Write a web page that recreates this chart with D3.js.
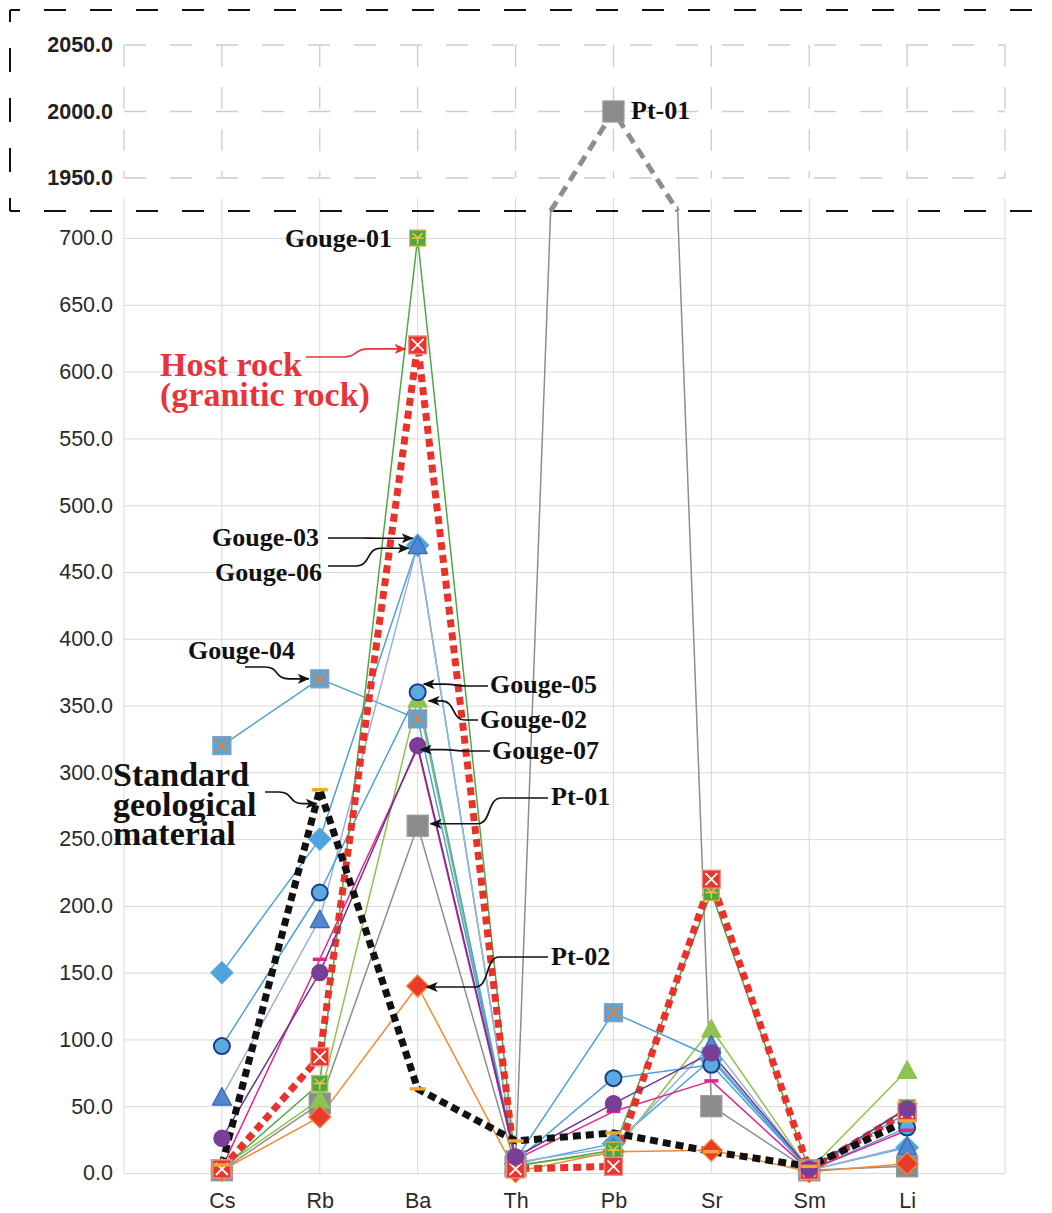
<!DOCTYPE html>
<html>
<head>
<meta charset="utf-8">
<script src="https://cdn.jsdelivr.net/npm/d3@7"></script>
<style>
  body { margin: 0; background: #fff; }
  svg { display: block; }
</style>
</head>
<body>
<svg id="chart" width="1052" height="1213"></svg>
<script>
// ---- data -------------------------------------------------------------
const elements = ["Cs", "Rb", "Ba", "Th", "Pb", "Sr", "Sm", "Li"];
const lowerTicks = [0, 50, 100, 150, 200, 250, 300, 350, 400, 450, 500, 550, 600, 650, 700];
const upperTicks = [1950, 2000, 2050];

const pt01     = [2, 52, 260, 5, 2000, 50, 2, 5];
const gouge02  = [4, 55, 355, 6, 15, 108, 2, 77];
const gouge04  = [320, 370, 340, 10, 120, 87, 2, 45];
const gouge06  = [150, 250, 470, 7, 22, 85, 2, 19];
const gouge03  = [57, 190, 470, 8, 19, 96, 2, 20];
const gouge05  = [95, 210, 360, 9, 71, 81, 2, 34];
const magentaSample = [4, 160, 318, 10, 46, 69, 2, 32];
const pt02     = [2, 42, 140, 1, 16, 17, 1, 7];
const gouge01  = [3, 67, 700, 5, 17, 210, 2, 49];
const hostRock = [3, 87, 620, 3, 5, 220, 2, 46];
const gouge07  = [26, 150, 320, 12, 52, 90, 3, 48];
const standard = [6, 287, 63, 24, 30, 16, 5, 39];

// ---- styles per series (drawing order) --------------------------------
const series = [
  { name: "Pt-01",    values: pt01,    line: { color: "#8e8e8e", width: 1.5 },
    marker: { shape: "square", size: 21, fill: "#8c8c8c", stroke: "#999999" } },
  { name: "Gouge-02", values: gouge02, line: { color: "#8cc44f", width: 1.5 },
    marker: { shape: "triangle", size: 19, fill: "#8dc451", stroke: "#8dc451" } },
  { name: "Gouge-04", values: gouge04, line: { color: "#4ea1d6", width: 1.5 },
    marker: { shape: "squareX", size: 18, fill: "#56a5db", stroke: "#8aa0b8", glyph: "#e5813a" } },
  { name: "Gouge-06", values: gouge06, line: { color: "#4ea1d6", width: 1.5 },
    marker: { shape: "diamond", size: 22, fill: "#4fa3dc", stroke: "#5aa8da" } },
  { name: "Gouge-03", values: gouge03, line: { color: "#9ab3d8", width: 1.5 },
    marker: { shape: "triangle", size: 19, fill: "#4f88d0", stroke: "#3d69b5" } },
  { name: "Gouge-05", values: gouge05, line: { color: "#4ea1d6", width: 1.5 },
    marker: { shape: "circle", size: 16, fill: "#5aace0", stroke: "#1e3a8a", strokeWidth: 2 } },
  { name: "magenta",  values: magentaSample, line: { color: "#e2248c", width: 1.5 },
    marker: { shape: "dash", size: 14, fill: "#e3238d" } },
  { name: "Pt-02",    values: pt02,    line: { color: "#f08a32", width: 1.5 },
    marker: { shape: "diamond", size: 22, fill: "#ea3a2a", stroke: "#f08a3a" } },
  { name: "Gouge-01", values: gouge01, line: { color: "#4fa847", width: 1.5 },
    marker: { shape: "squareStar", size: 16, fill: "#4da74a", stroke: "#d9b13a", glyph: "#f5c533" } },
  { name: "Host rock", values: hostRock, line: { color: "#e8332b", width: 7, dash: "8,5" },
    marker: { shape: "squareX", size: 18, fill: "#e8352e", stroke: "#f09088", glyph: "#ffffff" } },
  { name: "Gouge-07", values: gouge07, line: { color: "#6e3594", width: 1.5 },
    marker: { shape: "circle", size: 16, fill: "#7a3e99", stroke: "#7a3e99" } },
  { name: "Standard geological material", values: standard, line: { color: "#111111", width: 7, dash: "8,5" },
    marker: { shape: "dash", size: 16, fill: "#f0a630" } }
];

// ---- layout -----------------------------------------------------------
const svg = d3.select("#chart");
const left = 124, right = 1005;
const x = d3.scalePoint().domain(elements).range([left, right]).padding(1);
const yLow = d3.scaleLinear().domain([0, 730]).range([1173, 198]);
const yTop = d3.scaleLinear().domain([1950, 2050]).range([178, 45]);
const breakY = 211;
const gridXs = [left, ...elements.map(e => x(e)), right];

// ---- lower panel grid -------------------------------------------------
const gridLow = svg.append("g").attr("stroke", "#d9d9d9").attr("stroke-width", 1);
gridLow.selectAll("line.h").data(lowerTicks).join("line")
  .attr("x1", left).attr("x2", right)
  .attr("y1", d => yLow(d) + 0.5).attr("y2", d => yLow(d) + 0.5);
gridLow.selectAll("line.v").data(gridXs).join("line")
  .attr("x1", d => d).attr("x2", d => d)
  .attr("y1", yLow(730)).attr("y2", yLow(0));

// ---- upper panel grid (dashed) ----------------------------------------
const gridTop = svg.append("g").attr("stroke", "#cccccc").attr("stroke-width", 1.3)
  .attr("stroke-dasharray", "22,24");
gridTop.selectAll("line.h").data(upperTicks).join("line")
  .attr("x1", left).attr("x2", right)
  .attr("y1", d => yTop(d)).attr("y2", d => yTop(d));
gridTop.selectAll("line.v").data(gridXs).join("line")
  .attr("x1", d => d).attr("x2", d => d)
  .attr("y1", yTop(2050)).attr("y2", yTop(1950))
  .attr("stroke-dasharray", "22,20");

// ---- axes -------------------------------------------------------------
const fmt = d3.format(".1f");
const axLow = svg.append("g").attr("transform", `translate(${left},0)`)
  .call(d3.axisLeft(yLow).tickValues(lowerTicks).tickFormat(fmt).tickSize(0).tickPadding(11));
axLow.select(".domain").remove();
axLow.selectAll("text").attr("font-family", "'Liberation Sans', Arial, Helvetica, sans-serif")
  .attr("font-size", 21.5).attr("fill", "#2a2a2a");

const axTop = svg.append("g").attr("transform", `translate(${left},0)`)
  .call(d3.axisLeft(yTop).tickValues(upperTicks).tickFormat(fmt).tickSize(0).tickPadding(11));
axTop.select(".domain").remove();
axTop.selectAll("text").attr("font-family", "'Liberation Sans', Arial, Helvetica, sans-serif")
  .attr("font-size", 21.5).attr("font-weight", "bold").attr("fill", "#222");

const axX = svg.append("g").attr("transform", `translate(0,${yLow(0)})`)
  .call(d3.axisBottom(x).tickSize(0).tickPadding(20));
axX.select(".domain").remove();
axX.selectAll("text").attr("font-family", "'Liberation Sans', Arial, Helvetica, sans-serif")
  .attr("font-size", 21.5).attr("fill", "#2a2a2a");

// ---- axis break frame -------------------------------------------------
const frame = svg.append("g").attr("stroke", "#111").attr("stroke-width", 2).attr("fill", "none");
frame.append("path").attr("d", `M10,10 H1052`).attr("stroke-dasharray", "22,24").attr("stroke-dashoffset", 12);
frame.append("path").attr("d", `M10,10 V${breakY}`).attr("stroke-dasharray", "24,26").attr("stroke-dashoffset", 12);
frame.append("path").attr("d", `M10,${breakY} H1052`).attr("stroke-dasharray", "22,24").attr("stroke-dashoffset", 12);

// ---- series lines (lower panel, clipped at the break) ------------------
svg.append("clipPath").attr("id", "lowClip")
  .append("rect").attr("x", 0).attr("y", breakY - 5).attr("width", 1052).attr("height", 1213);

const line = d3.line().x((d, i) => x(elements[i])).y(d => yLow(d));
const linesG = svg.append("g").attr("clip-path", "url(#lowClip)").attr("fill", "none");
series.forEach(s => {
  linesG.append("path").attr("d", line(s.values))
    .attr("stroke", s.line.color).attr("stroke-width", s.line.width)
    .attr("stroke-dasharray", s.line.dash || null)
    .attr("stroke-linejoin", "round");
});

// Pt-01 peak on Pb continues in the upper panel
const pbIdx = elements.indexOf("Pb");
const peak = pt01[pbIdx];
const yBreakVal = yLow.invert(breakY);
function crossX(i0, i1) {
  const v0 = pt01[i0], v1 = pt01[i1];
  const t = (yBreakVal - v0) / (v1 - v0);
  return x(elements[i0]) + t * (x(elements[i1]) - x(elements[i0]));
}
const px = x("Pb"), py = yTop(peak);
svg.append("path")
  .attr("d", `M${crossX(pbIdx - 1, pbIdx)},${breakY} L${px},${py} L${crossX(pbIdx + 1, pbIdx)},${breakY}`)
  .attr("fill", "none").attr("stroke", "#8e8e8e").attr("stroke-width", 5)
  .attr("stroke-dasharray", "11,7");

// ---- markers ----------------------------------------------------------
function drawMarker(g, m, cx, cy) {
  const h = m.size / 2;
  const grp = g.append("g").attr("transform", `translate(${cx},${cy})`);
  const sw = m.strokeWidth || 1.3;
  switch (m.shape) {
    case "square":
      grp.append("rect").attr("x", -h).attr("y", -h).attr("width", m.size).attr("height", m.size)
        .attr("fill", m.fill).attr("stroke", m.stroke).attr("stroke-width", sw);
      break;
    case "squareX":
      grp.append("rect").attr("x", -h).attr("y", -h).attr("width", m.size).attr("height", m.size)
        .attr("fill", m.fill).attr("stroke", m.stroke).attr("stroke-width", sw);
      grp.append("path").attr("d", `M${-h + 3},${-h + 3} L${h - 3},${h - 3} M${h - 3},${-h + 3} L${-h + 3},${h - 3}`)
        .attr("stroke", m.glyph).attr("stroke-width", 1.8);
      break;
    case "squareStar":
      grp.append("rect").attr("x", -h).attr("y", -h).attr("width", m.size).attr("height", m.size)
        .attr("fill", m.fill).attr("stroke", m.stroke).attr("stroke-width", sw);
      grp.append("path").attr("d", `M${-h + 3},${-h + 3} L0,0 L${h - 3},${-h + 3} M0,0 V${h - 2} M${-h + 2},0 H${h - 2}`)
        .attr("stroke", m.glyph).attr("stroke-width", 1.6).attr("fill", "none");
      break;
    case "circle":
      grp.append("circle").attr("r", h).attr("fill", m.fill).attr("stroke", m.stroke).attr("stroke-width", sw);
      break;
    case "triangle": {
      const th = m.size * 0.87;
      grp.append("path").attr("d", `M0,${-th / 2 - 1} L${h},${th / 2} L${-h},${th / 2} Z`)
        .attr("fill", m.fill).attr("stroke", m.stroke).attr("stroke-width", sw).attr("stroke-linejoin", "round");
      break;
    }
    case "diamond":
      grp.append("path").attr("d", `M0,${-h} L${h},0 L0,${h} L${-h},0 Z`)
        .attr("fill", m.fill).attr("stroke", m.stroke).attr("stroke-width", sw);
      break;
    case "dash":
      grp.append("rect").attr("x", -h).attr("y", -1.7).attr("width", m.size).attr("height", 3.4)
        .attr("fill", m.fill);
      break;
  }
}

const markG = svg.append("g").attr("clip-path", "url(#lowClip)");
series.forEach(s => {
  s.values.forEach((v, i) => {
    if (v <= 730) drawMarker(markG, s.marker, x(elements[i]), yLow(v));
  });
});
// Pt-01 marker at its Pb peak in the upper panel
drawMarker(svg.append("g"), series[0].marker, px, py);

// ---- annotations ------------------------------------------------------
const defs = svg.append("defs");
function arrowHead(id, color) {
  defs.append("marker").attr("id", id).attr("viewBox", "0 0 12 10")
    .attr("refX", 11).attr("refY", 5).attr("markerWidth", 12).attr("markerHeight", 10)
    .attr("markerUnits", "userSpaceOnUse").attr("orient", "auto")
    .append("path").attr("d", "M0,0 L12,5 L0,10 L3,5 Z").attr("fill", color);
}
arrowHead("headBlack", "#111");
arrowHead("headRed", "#e8332b");

function wavy(x0, y0, x1, y1) {
  const mx = (x0 + x1) / 2;
  const w = Math.min(12, Math.abs(x1 - x0) / 4) * Math.sign(x1 - x0);
  return `M${x0},${y0} L${mx - w},${y0} C${mx + w * 0.2},${y0} ${mx - w * 0.2},${y1} ${mx + w},${y1} L${x1},${y1}`;
}

const serif = "'Liberation Serif', 'Times New Roman', Times, serif";
const notes = [
  { lines: ["Pt-01"], x: 631, y: 119, size: 26, anchor: "start" },
  { lines: ["Gouge-01"], x: 392, y: 247, size: 26, anchor: "end" },
  { lines: ["Host rock", "(granitic rock)"], x: 160, y: 376, size: 34, lh: 30, color: "#e8333b",
    from: [306, 357], to: ["Ba", hostRock[2], -12, 4], head: "headRed" },
  { lines: ["Gouge-03"], x: 212, y: 546, size: 26, from: [328, 538], to: ["Ba", gouge03[2], -5, -7] },
  { lines: ["Gouge-06"], x: 215, y: 581, size: 26, from: [328, 566], to: ["Ba", gouge06[2], -9, 3] },
  { lines: ["Gouge-04"], x: 188, y: 659, size: 26, from: [245, 667], to: ["Rb", gouge04[1], -11, 0] },
  { lines: ["Gouge-05"], x: 490, y: 693, size: 26, from: [488, 686], to: ["Ba", gouge05[2], 6, -8] },
  { lines: ["Gouge-02"], x: 480, y: 728, size: 26, from: [478, 720], to: ["Ba", gouge02[2], 11, 2] },
  { lines: ["Gouge-07"], x: 492, y: 759, size: 26, from: [490, 751], to: ["Ba", gouge07[2], 3, 4] },
  { lines: ["Pt-01"], x: 551, y: 805, size: 26, from: [548, 798], to: ["Ba", pt01[2], 13, -2] },
  { lines: ["Pt-02"], x: 551, y: 965, size: 26, from: [548, 957], to: ["Ba", pt02[2], 9, 1] },
  { lines: ["Standard", "geological", "material"], x: 113, y: 786, size: 34, lh: 29.5,
    from: [265, 792], to: ["Rb", standard[1], -3, 14] }
];

const noteG = svg.append("g");
notes.forEach(n => {
  const color = n.color || "#111";
  if (n.from) {
    const tx = x(n.to[0]) + n.to[2], ty = yLow(n.to[1]) + n.to[3];
    noteG.append("path").attr("d", wavy(n.from[0], n.from[1], tx, ty))
      .attr("fill", "none").attr("stroke", color).attr("stroke-width", 1.7)
      .attr("marker-end", `url(#${n.head || "headBlack"})`);
  }
  const t = noteG.append("text").attr("x", n.x).attr("y", n.y)
    .attr("font-family", serif).attr("font-weight", "bold").attr("font-size", n.size)
    .attr("fill", color).attr("text-anchor", n.anchor || "start");
  n.lines.forEach((s, i) => {
    t.append("tspan").attr("x", n.x).attr("dy", i === 0 ? 0 : (n.lh || n.size * 0.88)).text(s);
  });
});
</script>
</body>
</html>
